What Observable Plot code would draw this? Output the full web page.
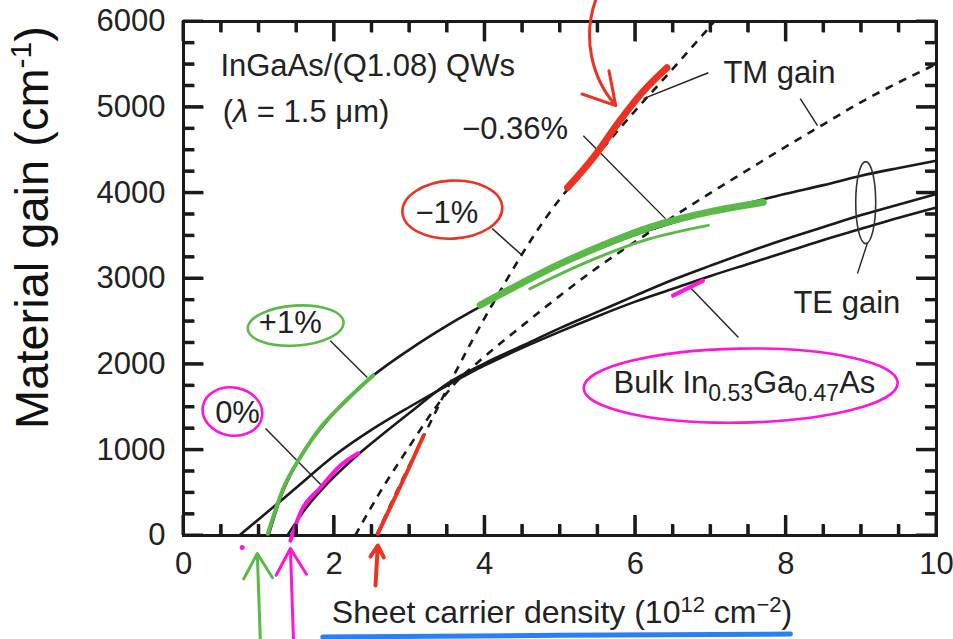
<!DOCTYPE html>
<html><head><meta charset="utf-8">
<script src="https://cdn.jsdelivr.net/npm/d3@7"></script>
<script src="https://cdn.jsdelivr.net/npm/@observablehq/plot@0.6"></script>
<style>html,body{margin:0;padding:0;background:#fff;}</style>
</head><body><div id="chart"></div>
<script>
// ---- tick values ----
const xTicksMajor = [0, 2, 4, 6, 8, 10];
const xTicksMinor = [0.5, 1, 1.5, 2.5, 3, 3.5, 4.5, 5, 5.5, 6.5, 7, 7.5, 8.5, 9, 9.5];
const yTicksMajor = [0, 1000, 2000, 3000, 4000, 5000, 6000];
const yTicksMinor = [250, 500, 750, 1250, 1500, 1750, 2250, 2500, 2750, 3250, 3500, 3750, 4250, 4500, 4750, 5250, 5500, 5750];

// ---- series (sheet density 1e12 cm^-2, gain cm^-1) ----
const tePlus1 = [[1.13,0],[1.3,470],[1.5,840],[1.7,1110],[1.9,1330],[2.1,1530],[2.3,1700],[2.52,1867],[3.0,2170],[3.5,2450],[4.0,2700],[4.5,2940],[5.0,3150],[5.5,3340],[6.0,3510],[6.5,3650],[7.0,3770],[7.5,3880],[8.0,3990],[8.5,4090],[9.0,4200],[9.5,4290],[10,4375]];
const teZero = [[1.38,0],[1.6,290],[1.86,560],[2.1,770],[2.35,968],[2.6,1150],[3.0,1430],[3.5,1770],[4.0,2010],[4.5,2215],[5.0,2420],[5.5,2610],[6.0,2800],[6.5,2985],[7.0,3150],[7.5,3310],[8.0,3460],[8.5,3600],[9.0,3740],[9.5,3865],[10,3985]];
const teBulk = [[0.74,0],[1.0,190],[1.5,560],[2.0,930],[2.5,1235],[3.0,1500],[3.5,1750],[4.0,1985],[4.5,2190],[5.0,2380],[5.5,2560],[6.0,2730],[6.5,2880],[7.0,3030],[7.5,3170],[8.0,3310],[8.5,3450],[9.0,3580],[9.5,3710],[10,3830]];
const tmMinus036 = [[2.28,0],[2.62,520],[3.0,1040],[3.32,1460],[3.59,1760],[4.0,2090],[4.5,2450],[5.0,2800],[5.5,3130],[6.0,3430],[6.5,3720],[7.0,4000],[7.5,4270],[8.0,4540],[8.5,4800],[9.0,5060],[9.5,5290],[10,5505]];
const tmMinus1 = [[2.56,0],[2.9,640],[3.19,1160],[3.55,1800],[4.0,2540],[4.25,2920],[4.5,3290],[5.0,3930],[5.23,4170],[5.5,4450],[6.0,4960],[6.5,5450],[7.05,6000]];

// ---- labels & leader lines ----
const labels = [
  {text: "InGaAs/(Q1.08) QWs", x: 0.49, y: 5368},
  {text: "(λ = 1.5 μm)", x: 0.52, y: 4831},
  {text: "TM gain", x: 7.17, y: 5286},
  {text: "−0.36%", x: 3.70, y: 4632},
  {text: "−1%", x: 3.08, y: 3652},
  {text: "+1%", x: 1.0, y: 2369},
  {text: "0%", x: 0.42, y: 1319},
  {text: "TE gain", x: 8.10, y: 2602},
  {text: "Bulk In0.53Ga0.47As", x: 5.71, y: 1669}
];
const leaders = [
  [6.97,5402,6.11,5099],[8.19,5099,8.42,4784],[5.31,4667,6.40,3699],[4.10,3582,4.50,3267],
  [1.95,2272,2.44,1844],[1.09,1249,1.86,560],[9.08,3407,8.95,3057],[6.73,2894,7.37,2310]
];
const teGroup = [[9.06, 3886]];

// ---- hand-drawn annotation strokes ----
const redTop = [[5.1,4060],[5.45,4420],[5.8,4850],[6.1,5180],[6.42,5460]];
const redLow = [[2.58,20],[2.79,410],[3.0,800],[3.19,1170]];
const greenLow = [[1.12,20],[1.33,560],[1.55,910],[1.82,1260],[2.12,1540],[2.52,1870]];
const greenTop = [[3.94,2690],[4.5,2950],[5.0,3170],[5.6,3400],[6.2,3600],[7.0,3780],[7.7,3890]];
const greenTop2 = [[4.6,2880],[5.3,3170],[6.1,3440],[6.97,3620]];
const magentaLow = [[1.42,-60],[1.55,260],[1.82,560],[2.08,815],[2.32,960]];
const magentaBulk = [[6.5,2800],[6.9,2975]];
const blueLine = [[1.85,-1185],[5.0,-1165],[8.06,-1150]];
const redCircle = [[3.57, 3804]], greenCircle = [[1.49, 2450]], zeroCircle = [[0.65, 1447]], bulkCircle = [[7.40, 1750]];
const magentaDots = [[0.78, -140]];
const greenArrow = [[1.02,-1214,0.98,-210]];
const magentaArrow = [[1.46,-1214,1.42,-152]];
const redArrowLow = [[2.55,-583,2.58,-117]];
const redArrowTop = [[5.47,6243,5.74,5018]];

const ink = "#1a1a1a", red = "#ea3323", green = "#5bb947", magenta = "#ff14d8", blue = "#2a7ff7";

function ellipseSymbol(rx, ry) {
  const k = 0.5523;
  return {draw(p) {
    p.moveTo(rx, 0);
    p.bezierCurveTo(rx, ry * k, rx * k, ry, 0, ry);
    p.bezierCurveTo(-rx * k, ry, -rx, ry * k, -rx, 0);
    p.bezierCurveTo(-rx, -ry * k, -rx * k, -ry, 0, -ry);
    p.bezierCurveTo(rx * k, -ry, rx, -ry * k, rx, 0);
    p.closePath();
  }};
}
const px = d => d[0], py = d => d[1];
const line = (data, o) => Plot.line(data, {x: px, y: py, curve: "monotone-x", strokeLinecap: "round", ...o});
const ell = (data, rx, ry, o) => Plot.dot(data, {x: px, y: py, symbol: ellipseSymbol(rx, ry), fill: "none", ...o});
const arr = (data, o) => Plot.arrow(data, {x1: d => d[0], y1: d => d[1], x2: d => d[2], y2: d => d[3], strokeWidth: 3, headAngle: 60, ...o});

// inward ticks: pixel lengths converted through the frame size (753 x 514 px)
const FW = 753, FH = 514, TMAJ = 20, TMIN = 11;
const XD = [0, 10], YD = [0, 6000];
const tx = n => n / FW * (XD[1] - XD[0]), ty = n => n / FH * (YD[1] - YD[0]);
const segs = [];
for (const [vals, len] of [[xTicksMajor, TMAJ], [xTicksMinor, TMIN]]) for (const v of vals) {
  segs.push([v, YD[0], v, YD[0] + ty(len), 3]);
  segs.push([v, YD[1], v, YD[1] - ty(len), 3]);
}
for (const [vals, len] of [[yTicksMajor, TMAJ], [yTicksMinor, TMIN]]) for (const v of vals) {
  segs.push([XD[0], v, XD[0] + tx(len), v, 3]);
  segs.push([XD[1], v, XD[1] - tx(len), v, 3]);
}
for (const l of leaders) segs.push([...l, 1.4]);

const chart = Plot.plot({
  width: 953, height: 639,
  marginLeft: 183, marginRight: 17, marginTop: 21, marginBottom: 104,
  x: {domain: XD},
  y: {domain: YD},
  style: {fontFamily: "'Liberation Sans', Arial, Helvetica, sans-serif", color: "#222", background: "#fff", overflow: "visible"},
  marks: [
    // curves
    line(tePlus1, {stroke: ink, strokeWidth: 2.6}),
    line(teZero, {stroke: ink, strokeWidth: 2.6}),
    line(teBulk, {stroke: ink, strokeWidth: 2.6}),
    line(tmMinus036, {stroke: ink, strokeWidth: 2.6, strokeDasharray: "8,7", strokeLinecap: "butt"}),
    line(tmMinus1, {stroke: ink, strokeWidth: 2.6, strokeDasharray: "8,7", strokeLinecap: "butt"}),
    // leaders + inward ticks
    Plot.link(segs, {x1: d => d[0], y1: d => d[1], x2: d => d[2], y2: d => d[3], strokeWidth: d => d[4], stroke: "#222"}),
    ell(teGroup, 10, 41, {stroke: "#333", strokeWidth: 1.6}),
    // labels
    Plot.text(labels, {x: "x", y: "y", text: "text", textAnchor: "start", lineAnchor: "bottom", fontSize: 31, fill: "#222"}),
    // axes
    Plot.frame({stroke: ink, strokeWidth: 3}),
    Plot.axisX(xTicksMajor, {anchor: "bottom", tickSize: 0, tickPadding: 16, fontSize: 31, tickFormat: d => String(d), label: null, fill: "#222"}),
    Plot.axisY(yTicksMajor, {anchor: "left", tickSize: 0, tickPadding: 18, fontSize: 31, tickFormat: d => String(d), label: null, fill: "#222"}),
    // axis titles
    Plot.text(["Material gain (cm-1)"], {frameAnchor: "left", dx: -136, dy: -51, rotate: -90, textAnchor: "middle", lineAnchor: "bottom", fontSize: 47, fill: "#111"}),
    Plot.text(["Sheet carrier density (1012 cm-2)"], {frameAnchor: "bottom", dx: 2, dy: 87, textAnchor: "middle", lineAnchor: "bottom", fontSize: 32, fill: "#222"}),
    // hand-drawn annotations
    line(greenLow, {stroke: green, strokeWidth: 4}),
    line(greenTop, {stroke: green, strokeWidth: 7}),
    line(greenTop2, {stroke: green, strokeWidth: 3}),
    line(redTop, {stroke: red, strokeWidth: 7}),
    line(redLow, {stroke: red, strokeWidth: 4}),
    line(magentaLow, {stroke: magenta, strokeWidth: 4}),
    line(magentaBulk, {stroke: magenta, strokeWidth: 4}),
    line(blueLine, {stroke: blue, strokeWidth: 5}),
    ell(redCircle, 50, 29, {stroke: red, strokeWidth: 2.6, rotate: -3}),
    ell(greenCircle, 48, 20, {stroke: green, strokeWidth: 2.6, rotate: -4}),
    ell(zeroCircle, 30, 24, {stroke: magenta, strokeWidth: 2.6, rotate: 10}),
    ell(bulkCircle, 157, 37, {stroke: magenta, strokeWidth: 2.6, rotate: -1}),
    Plot.dot(magentaDots, {x: px, y: py, r: 2.5, fill: magenta}),
    arr(greenArrow, {stroke: green, headLength: 24}),
    arr(magentaArrow, {stroke: magenta, headLength: 24}),
    arr(redArrowLow, {stroke: red, headLength: 20, strokeWidth: 4}),
    arr(redArrowTop, {stroke: red, headLength: 26, bend: -30})
  ]
});

// rich text (sub/superscripts, italic)
const rich = {
  "(λ = 1.5 μm)": '(<tspan font-style="italic">λ</tspan> = 1.5 μm)',
  "Bulk In0.53Ga0.47As": 'Bulk In<tspan dy="8" font-size="23">0.53</tspan><tspan dy="-8">Ga</tspan><tspan dy="8" font-size="23">0.47</tspan><tspan dy="-8">As</tspan>',
  "Material gain (cm-1)": 'Material gain (cm<tspan dy="-17" font-size="30">-1</tspan><tspan dy="17">)</tspan>',
  "Sheet carrier density (1012 cm-2)": 'Sheet carrier density (10<tspan dy="-11" font-size="22">12</tspan><tspan dy="11"> cm</tspan><tspan dy="-11" font-size="22">−2</tspan><tspan dy="11">)</tspan>'
};
d3.select(chart).selectAll("text").each(function () {
  const t = this.textContent;
  if (rich[t]) this.innerHTML = rich[t];
});

// safeguard: also draw the inward ticks through the chart's own scales
try {
  const sx = chart.scale("x"), sy = chart.scale("y");
  const g = d3.select(chart).append("g").attr("stroke", ink).attr("stroke-width", 3);
  for (const s of segs) if (s[4] === 3) {
    g.append("line")
      .attr("x1", sx.apply(s[0])).attr("y1", sy.apply(s[1]))
      .attr("x2", sx.apply(s[2])).attr("y2", sy.apply(s[3]));
  }
} catch (e) {}
document.getElementById("chart").appendChild(chart);
</script>
</body></html>
